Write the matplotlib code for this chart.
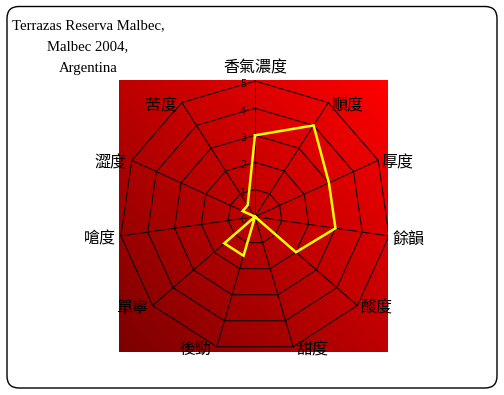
import numpy as np
import matplotlib
matplotlib.use("Agg")
import matplotlib.pyplot as plt
from matplotlib.patches import FancyBboxPatch
from matplotlib.colors import LinearSegmentedColormap

# Tasting profile of the wine, one score per attribute (0-5 scale)
categories = ["香氣濃度", "順度", "厚度", "餘韻", "酸度", "甜度",
              "後勁", "單寧", "嗆度", "澀度", "苦度"]
scores = [3, 4, 3, 3, 2, 0, 1.5, 1.5, 0, 0.5, 0.5]
ring_levels = [1, 2, 3, 4, 5]
tick_labels = ["0", "1", "2", "3", "4", "5"]
title_lines = ["Terrazas Reserva Malbec,", "Malbec 2004,", "Argentina"]

W, H = 504, 395
fig = plt.figure(figsize=(W / 100, H / 100), dpi=100)

# Page layer in pixel coordinates: rounded frame and the title block
page = fig.add_axes([0, 0, 1, 1])
page.set_xlim(0, W)
page.set_ylim(H, 0)
page.axis("off")
frame = FancyBboxPatch((7, 6.5), 490, 381.5,
                       boxstyle="round,pad=0,rounding_size=12",
                       fc="white", ec="black", lw=1.0)
page.add_patch(frame)
title_font = dict(family="Liberation Serif", fontsize=10.6, color="black",
                  ha="center", va="baseline")
for txt, yb in zip(title_lines, [29.5, 50.5, 72]):
    page.text(88, yb, txt, **title_font)

# Radar panel
ax = fig.add_axes([119 / W, 1 - 352 / H, 269 / W, 272 / H])
ax.set_xlim(-5.02, 4.91)
ax.set_ylim(-4.99, 5.04)
ax.axis("off")

# Diagonal red gradient behind the web
cmap = LinearSegmentedColormap.from_list("wine", ["#7c0000", "#ff0000"])
gx, gy = np.meshgrid(np.linspace(0, 1, 300), np.linspace(0, 1, 300))
ax.imshow((gx + gy) / 2, cmap=cmap, origin="lower",
          extent=[-5.02, 4.91, -4.99, 5.04], aspect="auto", zorder=0)

n = len(categories)
theta = 2 * np.pi * np.arange(n) / n
sx, sy = np.sin(theta), np.cos(theta)

# Web: rings and spokes
for lvl in ring_levels:
    ax.plot(np.append(lvl * sx, lvl * sx[0]), np.append(lvl * sy, lvl * sy[0]),
            color="black", lw=0.7, zorder=2)
rmax = max(ring_levels)
for k in range(n):
    ax.plot([0, rmax * sx[k]], [0, rmax * sy[k]], color="black", lw=0.7, zorder=2)

# Scale numbers along the first spoke
for i, lab in enumerate(tick_labels):
    ax.annotate(lab, (0, i), xytext=(-12, -3), textcoords="offset pixels",
                ha="center", va="center", fontsize=7, color="#200000", zorder=3)

# Score polygon
vals = np.array(scores, dtype=float)
ax.plot(np.append(vals * sx, vals[0] * sx[0]), np.append(vals * sy, vals[0] * sy[0]),
        color="#ffff00", lw=1.8, zorder=4, solid_joinstyle="miter")

# Attribute names at the outer vertices
cjk = ["Noto Sans CJK TC", "DejaVu Sans"]
for k, name in enumerate(categories):
    x, y = rmax * sx[k], rmax * sy[k]
    if abs(sx[k]) < 1e-6:
        ha, off = "center", (0, 13)
    elif sx[k] > 0:
        ha, off = "left", (3, -3)
    else:
        ha, off = "right", (-5, -3)
    ax.annotate(name, (x, y), xytext=off, textcoords="offset pixels",
                ha=ha, va="center", fontsize=11.5, family=cjk,
                color="black", annotation_clip=False, zorder=5)

fig.savefig("out.png", dpi=100)
